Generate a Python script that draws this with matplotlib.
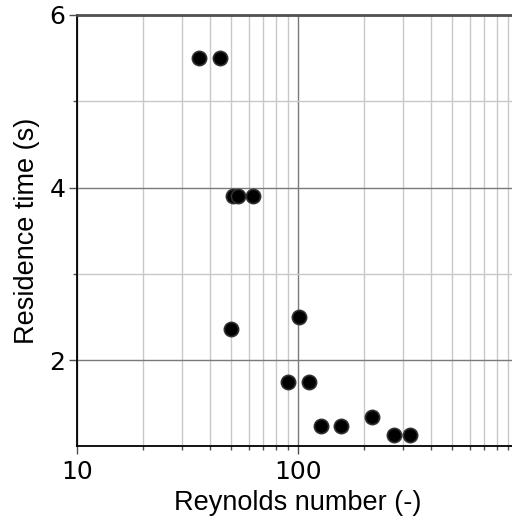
import matplotlib
matplotlib.use('Agg')
import matplotlib.pyplot as plt
from matplotlib.ticker import LogLocator, FixedLocator, NullFormatter

# Residence time against Reynolds number
reynolds = [35.7, 44.5, 50.9, 53.7, 62.8, 49.9, 101.4, 90.6, 112.8,
            127.4, 157.0, 216.8, 271.9, 321.0]
residence = [5.5, 5.5, 3.9, 3.9, 3.9, 2.36, 2.5, 1.74, 1.74,
             1.24, 1.24, 1.34, 1.13, 1.13]

fig = plt.figure(figsize=(5.12, 5.22), dpi=100)
ax = fig.add_axes([0.1498, 0.145, 0.863, 0.8263])

ax.set_xscale('log')
ax.set_xlim(10, 1000)
ax.set_ylim(1, 6)

ax.xaxis.set_major_locator(FixedLocator([10, 100]))
ax.xaxis.set_major_formatter(plt.FuncFormatter(lambda v, p: f'{v:g}'))
ax.xaxis.set_minor_locator(LogLocator(base=10, subs=range(2, 10)))
ax.xaxis.set_minor_formatter(NullFormatter())
ax.yaxis.set_major_locator(FixedLocator([2, 4, 6]))
ax.yaxis.set_minor_locator(FixedLocator([3, 5]))

ax.grid(which='major', color='#7a7a7a', linewidth=1.0)
ax.grid(which='minor', color='#c8c8c8', linewidth=1.0)
ax.set_axisbelow(True)

ax.scatter(reynolds, residence, s=105, color='black', edgecolors='#303030',
           linewidths=1.2, zorder=3, clip_on=False)

for side in ['left', 'bottom']:
    ax.spines[side].set_color('black')
    ax.spines[side].set_linewidth(1.3)
ax.spines['top'].set_color('#505050')
ax.spines['top'].set_linewidth(2.0)
ax.spines['right'].set_visible(False)

ax.tick_params(which='both', direction='out', color='#505050', width=1.0)
ax.tick_params(which='major', length=5.5, labelsize=18)
ax.tick_params(axis='x', which='major', pad=4)
ax.tick_params(axis='y', which='major', pad=2.5)
ax.tick_params(which='minor', length=3)
for lbl in ax.get_xticklabels() + ax.get_yticklabels():
    lbl.set_fontfamily('DejaVu Sans')

ax.set_xlabel('Reynolds number (-)', fontsize=19.5, family='Liberation Sans', labelpad=5)
ax.set_ylabel('Residence time (s)', fontsize=19.5, family='Liberation Sans', labelpad=7)

fig.savefig('out.png', dpi=100)
